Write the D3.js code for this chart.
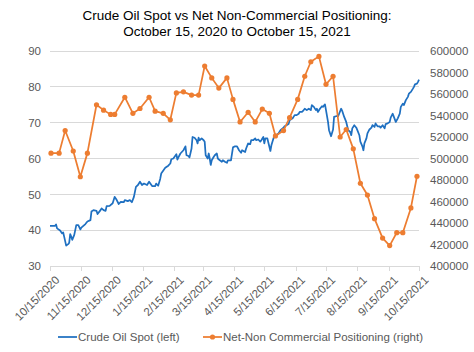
<!DOCTYPE html>
<html lang="en">
	<head>
		<meta charset="utf-8">
		<title>Crude Oil Spot vs Net Non-Commercial Positioning</title>
		<script type="text/javascript" src="https://cdnjs.cloudflare.com/ajax/libs/d3/7.8.5/d3.min.js"></script>
		<style type="text/css">
			body {
				margin: 0;
				background: white;
				}
			text {
				font-family: "Liberation Sans", Arial, sans-serif;
				}
			.title {
				font-size: 13.5px;
				fill: #000;
				}
			.axis text {
				font-size: 11.5px;
				fill: #595959;
				}
			.axis path,
			.axis line {
				stroke: #d9d9d9;
				shape-rendering: crispEdges;
				}
			.grid line {
				stroke: #d9d9d9;
				shape-rendering: crispEdges;
				}
			.legend text {
				font-size: 11.5px;
				fill: #595959;
				}
		</style>
	</head>
	<body>
		<script type="text/javascript">

			var w = 474;
			var h = 352;

			var titleLines = ["Crude Oil Spot vs Net Non-Commercial Positioning:",
			                  "October 15, 2020 to October 15, 2021"];
			var seriesNames = ["Crude Oil Spot (left)", "Net-Non Commercial Positioning (right)"];

			var leftTicks = [30, 40, 50, 60, 70, 80, 90];
			var rightTicks = [400000, 420000, 440000, 460000, 480000, 500000,
			                  520000, 540000, 560000, 580000, 600000];
			var dateTicks = ["2020-10-15", "2020-11-15", "2020-12-15", "2021-01-15", "2021-02-15",
			                 "2021-03-15", "2021-04-15", "2021-05-15", "2021-06-15", "2021-07-15",
			                 "2021-08-15", "2021-09-15", "2021-10-15"];

			// crude oil spot
			var oilDates = ["2020-10-15","2020-10-20","2020-10-21","2020-10-22","2020-10-25","2020-10-27","2020-10-28","2020-10-29","2020-10-31",
				"2020-11-02","2020-11-03","2020-11-04","2020-11-05","2020-11-06","2020-11-08","2020-11-10","2020-11-12","2020-11-14","2020-11-15",
				"2020-11-19","2020-11-21","2020-11-24","2020-11-25","2020-11-27","2020-11-30","2020-12-01","2020-12-04","2020-12-05","2020-12-07",
				"2020-12-09","2020-12-10","2020-12-13","2020-12-16","2020-12-18","2020-12-20","2020-12-22","2020-12-24","2020-12-27","2020-12-28",
				"2020-12-31","2021-01-02","2021-01-04","2021-01-06","2021-01-08","2021-01-10","2021-01-12","2021-01-14","2021-01-16","2021-01-19",
				"2021-01-21","2021-01-24","2021-01-27","2021-01-28","2021-01-30","2021-02-01","2021-02-02","2021-02-06","2021-02-09","2021-02-11",
				"2021-02-12","2021-02-14","2021-02-17","2021-02-18","2021-02-19","2021-02-21","2021-02-24","2021-02-26","2021-02-27","2021-03-01",
				"2021-03-02","2021-03-04","2021-03-05","2021-03-07","2021-03-09","2021-03-10","2021-03-11","2021-03-12","2021-03-14","2021-03-16",
				"2021-03-17","2021-03-18","2021-03-20","2021-03-21","2021-03-22","2021-03-23","2021-03-24","2021-03-26","2021-03-27","2021-03-29",
				"2021-03-30","2021-04-01","2021-04-03","2021-04-04","2021-04-06","2021-04-08","2021-04-09","2021-04-12","2021-04-14","2021-04-16",
				"2021-04-18","2021-04-20","2021-04-22","2021-04-23","2021-04-26","2021-04-27","2021-04-29","2021-05-01","2021-05-02","2021-05-04",
				"2021-05-06","2021-05-07","2021-05-09","2021-05-11","2021-05-12","2021-05-14","2021-05-15","2021-05-16","2021-05-18","2021-05-20",
				"2021-05-21","2021-05-22","2021-05-24","2021-05-25","2021-05-27","2021-05-29","2021-05-31","2021-06-03","2021-06-04","2021-06-06",
				"2021-06-08","2021-06-09","2021-06-12","2021-06-14","2021-06-16","2021-06-18","2021-06-19","2021-06-21","2021-06-22","2021-06-24",
				"2021-06-26","2021-06-28","2021-06-30","2021-07-01","2021-07-03","2021-07-05","2021-07-06","2021-07-07","2021-07-09","2021-07-11",
				"2021-07-12","2021-07-14","2021-07-15","2021-07-17","2021-07-18","2021-07-20","2021-07-22","2021-07-23","2021-07-25","2021-07-27",
				"2021-07-28","2021-07-30","2021-07-31","2021-08-02","2021-08-04","2021-08-06","2021-08-08","2021-08-09","2021-08-10","2021-08-12",
				"2021-08-14","2021-08-15","2021-08-17","2021-08-18","2021-08-20","2021-08-21","2021-08-22","2021-08-24","2021-08-25","2021-08-27",
				"2021-08-29","2021-08-30","2021-09-01","2021-09-02","2021-09-04","2021-09-06","2021-09-07","2021-09-09","2021-09-11","2021-09-12",
				"2021-09-14","2021-09-16","2021-09-17","2021-09-19","2021-09-21","2021-09-22","2021-09-24","2021-09-26","2021-09-27","2021-09-29",
				"2021-09-30","2021-10-02","2021-10-04","2021-10-05","2021-10-07","2021-10-09","2021-10-10","2021-10-11","2021-10-13","2021-10-14",
				"2021-10-15"];
			var oilPrices = [41.2,41.2,41.6,40.5,39.9,39.1,39.4,38.2,35.7,
				36.1,36.5,38.9,38.2,37.3,38.7,41.4,41.4,40.2,40.7,
				41.7,42.4,42.8,45.2,45.6,45.4,44.5,45.6,46.1,45.6,
				45.4,46.7,46.8,47.5,49.3,48.4,47.3,47.9,47.8,48.4,
				48.1,48.4,47.8,49.3,52.1,52.6,53.5,52.6,53.0,52.6,
				53.5,52.3,52.3,53.0,52.4,54.3,55.8,57.4,58.0,58.6,
				59.8,60.0,61.2,59.7,60.3,61.4,62.3,63.4,60.9,60.7,
				60.3,62.8,66.0,65.8,65.1,64.2,65.8,65.1,65.6,65.1,
				64.7,60.9,60.0,61.4,60.0,58.2,59.5,60.5,60.9,61.4,
				60.0,59.5,59.1,59.5,59.1,58.8,59.5,59.5,63.1,63.4,
				63.4,62.3,61.6,62.3,61.8,62.8,64.2,64.0,65.1,65.1,
				65.6,65.1,65.3,64.7,65.1,66.0,64.2,65.6,65.6,63.3,
				62.1,63.7,65.6,66.2,66.5,67.0,67.9,68.6,69.0,69.3,
				69.6,70.7,71.2,72.1,72.1,72.5,73.0,73.0,73.2,73.9,
				73.5,73.9,73.5,74.9,74.4,73.5,73.9,73.0,73.9,74.6,
				74.4,75.1,73.5,70.2,67.9,66.2,68.1,71.6,71.8,71.8,
				72.5,73.9,73.3,71.6,70.2,67.9,67.4,66.5,68.4,69.3,
				68.6,67.9,66.5,64.7,63.4,62.3,64.2,65.6,67.0,68.1,
				68.6,69.3,68.8,69.8,69.0,69.0,68.6,69.3,68.4,69.6,
				69.8,70.2,71.4,72.5,71.0,70.2,71.2,72.5,74.4,75.3,
				74.9,76.3,77.2,78.1,78.6,79.5,80.0,80.7,80.9,81.4,
				82.0];

			// weekly net non-commercial positions, read off the orange markers
			var cotDates = ["2020-10-16","2020-10-24","2020-10-30","2020-11-07","2020-11-14","2020-11-21","2020-11-30","2020-12-07",
				"2020-12-14","2020-12-18","2020-12-28","2021-01-05","2021-01-12","2021-01-21","2021-01-27","2021-02-04",
				"2021-02-11","2021-02-17","2021-02-24","2021-03-04","2021-03-11","2021-03-17","2021-03-24","2021-03-31",
				"2021-04-08","2021-04-14","2021-04-21","2021-04-29","2021-05-06","2021-05-13","2021-05-20","2021-05-26",
				"2021-06-03","2021-06-09","2021-06-17","2021-06-24","2021-06-30","2021-07-08","2021-07-15","2021-07-22",
				"2021-07-29","2021-08-04","2021-08-11","2021-08-18","2021-08-25","2021-09-01","2021-09-09","2021-09-16",
				"2021-09-23","2021-09-29","2021-10-07","2021-10-13"];
			var cotPositions = [505000,505000,526000,507000,483000,505000,550000,545000,
				541000,541000,557000,542000,546500,557000,544000,542000,
				536000,561000,562000,559000,559000,586000,575000,565500,
				575000,555000,534000,543000,534000,546000,542000,521000,
				526000,538000,555000,576500,590000,595000,569000,576500,
				520000,527000,509000,477000,466000,444000,426000,419000,
				431000,431000,454000,483500];

			var blue = "#1f70c1";
			var orange = "#ed7d31";

			var parseDate = d3.timeParse("%Y-%m-%d");
			var fmtDate = d3.timeFormat("%-m/%-d/%Y");

			var oil = oilDates.map(function(d, i){ return [parseDate(d), oilPrices[i]]; });
			var cot = cotDates.map(function(d, i){ return [parseDate(d), cotPositions[i]]; });

			// plot area edges
			var plotLeft = 50, plotRight = 419, plotTop = 51, plotBottom = 266;

			var xScale = d3.scaleTime()
					.domain([parseDate(dateTicks[0]), parseDate(dateTicks[dateTicks.length-1])])
					.range([plotLeft, plotRight]);

			var yLeft = d3.scaleLinear()
					.domain([leftTicks[0], leftTicks[leftTicks.length-1]])
					.range([plotBottom, plotTop]);

			var yRight = d3.scaleLinear()
					.domain([rightTicks[0], rightTicks[rightTicks.length-1]])
					.range([plotBottom, plotTop]);

			var svg = d3.select("body")
						.append("svg")
						.attr("width", w)
						.attr("height", h);

			// title
			svg.selectAll("text.title")
				.data(titleLines)
				.enter()
				.append("text")
				.attr("class", "title")
				.attr("x", 237)
				.attr("y", function(d, i){ return 20 + i*16; })
				.attr("text-anchor", "middle")
				.text(function(d){ return d; });

			// horizontal gridlines
			svg.append("g")
				.attr("class", "grid")
				.selectAll("line")
				.data(leftTicks.slice(1))
				.enter()
				.append("line")
				.attr("x1", plotLeft)
				.attr("x2", plotRight)
				.attr("y1", function(d){ return yLeft(d); })
				.attr("y2", function(d){ return yLeft(d); });

			// left axis
			var gLeft = svg.append("g")
				.attr("class", "axis")
				.attr("transform", "translate(" + plotLeft + ",0)")
				.call(d3.axisLeft(yLeft).tickValues(leftTicks).tickSize(0).tickPadding(9));
			gLeft.select(".domain").remove();

			// right axis
			var gRight = svg.append("g")
				.attr("class", "axis")
				.attr("transform", "translate(" + plotRight + ",0)")
				.call(d3.axisRight(yRight).tickValues(rightTicks).tickSize(0).tickPadding(11).tickFormat(d3.format("d")));
			gRight.select(".domain").remove();

			// bottom axis with slanted date labels
			var gBottom = svg.append("g")
				.attr("class", "axis")
				.attr("transform", "translate(0," + plotBottom + ")")
				.call(d3.axisBottom(xScale)
					.tickValues(dateTicks.map(parseDate))
					.tickSize(5)
					.tickSizeOuter(0)
					.tickFormat(fmtDate));

			gBottom.selectAll("text")
				.attr("text-anchor", "end")
				.attr("dx", 0)
				.attr("dy", 0)
				.attr("transform", "translate(4,9) rotate(-45)");

			// lines
			var oilLine = d3.line()
					.x(function(d){ return xScale(d[0]); })
					.y(function(d){ return yLeft(d[1]); });

			var cotLine = d3.line()
					.x(function(d){ return xScale(d[0]); })
					.y(function(d){ return yRight(d[1]); });

			svg.append("path")
				.datum(oil)
				.attr("fill", "none")
				.attr("stroke", blue)
				.attr("stroke-width", 1.75)
				.attr("stroke-linejoin", "round")
				.attr("d", oilLine);

			svg.append("path")
				.datum(cot)
				.attr("fill", "none")
				.attr("stroke", orange)
				.attr("stroke-width", 1.75)
				.attr("stroke-linejoin", "round")
				.attr("d", cotLine);

			svg.selectAll("circle.cot")
				.data(cot)
				.enter()
				.append("circle")
				.attr("class", "cot")
				.attr("cx", function(d){ return xScale(d[0]); })
				.attr("cy", function(d){ return yRight(d[1]); })
				.attr("r", 2.6)
				.attr("fill", orange);

			// legend
			var legend = svg.append("g").attr("class", "legend");
			var legendX = [58, 203];

			legend.selectAll("line")
				.data(seriesNames)
				.enter()
				.append("line")
				.attr("x1", function(d, i){ return legendX[i]; })
				.attr("x2", function(d, i){ return legendX[i] + 19; })
				.attr("y1", 337)
				.attr("y2", 337)
				.attr("stroke", function(d, i){ return i == 0 ? blue : orange; })
				.attr("stroke-width", 1.75);

			legend.append("circle")
				.attr("cx", legendX[1] + 9.5)
				.attr("cy", 337)
				.attr("r", 2.6)
				.attr("fill", orange);

			legend.selectAll("text")
				.data(seriesNames)
				.enter()
				.append("text")
				.attr("x", function(d, i){ return legendX[i] + 20; })
				.attr("y", 341)
				.text(function(d){ return d; });

		</script>
	</body>
</html>
